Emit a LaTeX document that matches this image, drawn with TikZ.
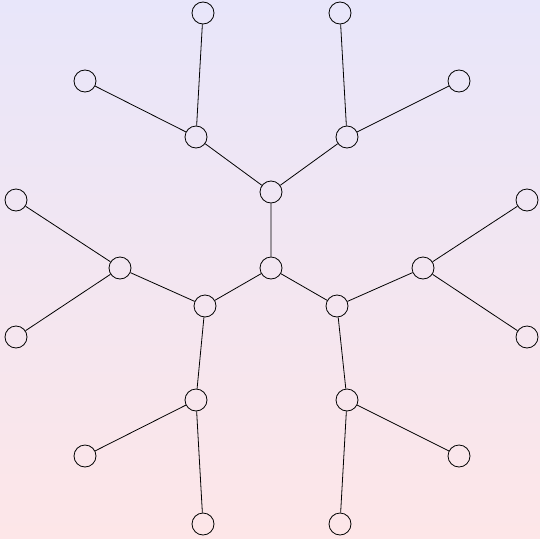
\documentclass[tikz,border=0pt]{standalone}
\usepackage{tikz}
\definecolor{topbg}{RGB}{232,230,250}
\definecolor{botbg}{RGB}{253,230,232}
\begin{document}
\begin{tikzpicture}[x=1pt,y=-1pt,line width=0.8pt,
		vtx/.style={circle,draw,inner sep=0pt,minimum size=22pt}]
		\useasboundingbox (0,0) rectangle (540,538);
		\shade[top color=topbg,bottom color=botbg] (0,0) rectangle (540,538);
		
		\node[vtx] (O)  at (271,268) {};
		\node[vtx] (A)  at (271,192) {};
		\node[vtx] (B)  at (205,306) {};
		\node[vtx] (C)  at (337,306) {};
		
		\node[vtx] (A1) at (196,137) {};
		\node[vtx] (A2) at (347,137) {};
		\node[vtx] (B1) at (120,268) {};
		\node[vtx] (B2) at (196,400) {};
		\node[vtx] (C1) at (423,268) {};
		\node[vtx] (C2) at (347,400) {};
		
		\node[vtx] (A11) at (85,81)   {};
		\node[vtx] (A12) at (203,13)  {};
		\node[vtx] (A21) at (340,13)  {};
		\node[vtx] (A22) at (459,81)  {};
		\node[vtx] (B11) at (16,200)  {};
		\node[vtx] (B12) at (16,337)  {};
		\node[vtx] (B21) at (85,456)  {};
		\node[vtx] (B22) at (203,524) {};
		\node[vtx] (C11) at (527,200) {};
		\node[vtx] (C12) at (527,337) {};
		\node[vtx] (C21) at (459,456) {};
		\node[vtx] (C22) at (340,524) {};
		
		\draw (O)--(A) (O)--(B) (O)--(C)
		(A)--(A1) (A)--(A2) (B)--(B1) (B)--(B2) (C)--(C1) (C)--(C2)
		(A1)--(A11) (A1)--(A12) (A2)--(A21) (A2)--(A22)
		(B1)--(B11) (B1)--(B12) (B2)--(B21) (B2)--(B22)
		(C1)--(C11) (C1)--(C12) (C2)--(C21) (C2)--(C22);
	\end{tikzpicture}
\end{document}
